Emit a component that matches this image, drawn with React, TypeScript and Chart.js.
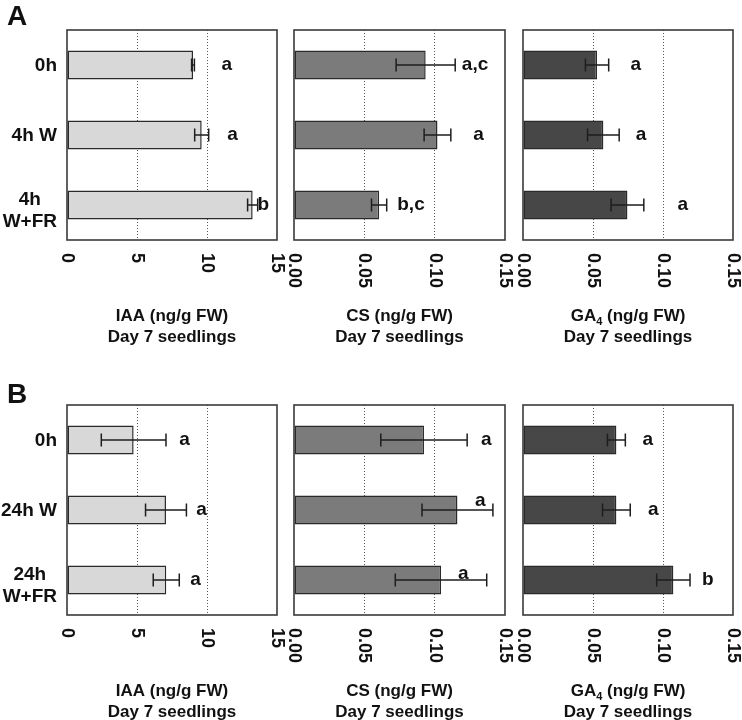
import React, { useEffect, useRef } from "react";
import { Chart, registerables } from "chart.js";

Chart.register(...registerables);

// ---------- data ----------
const rowACategories = [["0h"], ["4h W"], ["4h", "W+FR"]];
const rowBCategories = [["0h"], ["24h W"], ["24h", "W+FR"]];

const iaaTicks = ["0", "5", "10", "15"];
const hormoneTicks = ["0.00", "0.05", "0.10", "0.15"];

const iaaTitle = "IAA (ng/g FW)";
const csTitle = "CS (ng/g FW)";
const ga4Title = "GA₄ (ng/g FW)";
const subTitle = "Day 7 seedlings";

// Panel A
const iaaA = [9.0, 9.62, 13.26];
const iaaAErr = [0.1, 0.5, 0.36];
const iaaALetters = ["a", "a", "b"];
const csA = [0.0936, 0.102, 0.0605];
const csAErr = [0.021, 0.0095, 0.0054];
const csALetters = ["a,c", "a", "b,c"];
const ga4A = [0.0529, 0.0574, 0.0746];
const ga4AErr = [0.0083, 0.0113, 0.0117];
const ga4ALetters = ["a", "a", "a"];

// Panel B
const iaaB = [4.76, 7.07, 7.09];
const iaaBErr = [2.31, 1.46, 0.93];
const iaaBLetters = ["a", "a", "a"];
const csB = [0.0924, 0.1162, 0.1045];
const csBErr = [0.0307, 0.0252, 0.0325];
const csBLetters = ["a", "a", "a"];
const ga4B = [0.0667, 0.0667, 0.1074];
const ga4BErr = [0.0064, 0.0099, 0.0119];
const ga4BLetters = ["a", "a", "b"];

// letter annotation anchors (x in axis units, y shift in px)
const iaaALetterX = [11.03, 11.45, 13.6];
const csALetterX = [0.1193, 0.1274, 0.0734];
const ga4ALetterX = [0.0767, 0.0805, 0.1103];
const iaaBLetterX = [8.02, 9.24, 8.81];
const csBLetterX = [0.1329, 0.1286, 0.1165];
const ga4BLetterX = [0.0853, 0.0893, 0.1279];
const noShift = [0, 0, 0];
const csBLetterShift = [0, -9, -6];

// ---------- styling ----------
const FONT = '"Liberation Sans", Arial, Helvetica, sans-serif';
const IAA_COLOR = "#d8d8d8";
const CS_COLOR = "#7b7b7b";
const GA_COLOR = "#474747";
const INK = "#1e1e1e";

const COLS = [
  { left: 67, right: 277 },
  { left: 294, right: 505 },
  { left: 523, right: 733 },
];
const ROWS = [
  { canvasTop: 0, plotTop: 30, plotBottom: 240, letter: "A", letterY: 25 },
  { canvasTop: 360, plotTop: 405, plotBottom: 615, letter: "B", letterY: 403 },
];

const W = 742;
const H = 360;

type PanelProps = {
  col: number;
  row: number;
  values: number[];
  errors: number[];
  letters: string[];
  letterX: number[];
  letterShift: number[];
  ticks: string[];
  color: string;
  title: string;
  categories: string[][];
  showCategories: boolean;
};

function drawSubscriptText(ctx: CanvasRenderingContext2D, text: string, cx: number, y: number, size: number) {
  const subs = "₀₁₂₃₄₅₆₇₈₉";
  const parts: { t: string; sub: boolean }[] = [];
  for (const ch of text) {
    const idx = subs.indexOf(ch);
    const sub = idx >= 0;
    const t = sub ? String(idx) : ch;
    if (parts.length && parts[parts.length - 1].sub === sub) parts[parts.length - 1].t += t;
    else parts.push({ t, sub });
  }
  const big = `bold ${size}px ${FONT}`;
  const small = `bold ${Math.round(size * 0.62)}px ${FONT}`;
  let total = 0;
  for (const p of parts) {
    ctx.font = p.sub ? small : big;
    total += ctx.measureText(p.t).width;
  }
  let x = cx - total / 2;
  ctx.textAlign = "left";
  ctx.textBaseline = "alphabetic";
  for (const p of parts) {
    ctx.font = p.sub ? small : big;
    ctx.fillText(p.t, x, p.sub ? y + size * 0.22 : y);
    x += ctx.measureText(p.t).width;
  }
}

function Panel(props: PanelProps) {
  const ref = useRef<HTMLCanvasElement | null>(null);

  useEffect(() => {
    const p = props;
    const col = COLS[p.col];
    const row = ROWS[p.row];
    const tickVals = p.ticks.map((t) => parseFloat(t));
    const max = tickVals[tickVals.length - 1];
    const step = tickVals[1] - tickVals[0];

    const deco = {
      id: "deco",
      afterDatasetsDraw(chart: any) {
        const ctx: CanvasRenderingContext2D = chart.ctx;
        const xs = chart.scales.x;
        const meta = chart.getDatasetMeta(0);
        ctx.save();
        ctx.strokeStyle = INK;
        ctx.lineWidth = 1.5;
        p.values.forEach((v, i) => {
          const y = meta.data[i].y;
          const x1 = xs.getPixelForValue(v - p.errors[i]);
          const x2 = xs.getPixelForValue(v + p.errors[i]);
          ctx.beginPath();
          ctx.moveTo(x1, y);
          ctx.lineTo(x2, y);
          ctx.moveTo(x1, y - 6.5);
          ctx.lineTo(x1, y + 6.5);
          ctx.moveTo(x2, y - 6.5);
          ctx.lineTo(x2, y + 6.5);
          ctx.stroke();
        });
        ctx.restore();
      },
      afterDraw(chart: any) {
        const ctx: CanvasRenderingContext2D = chart.ctx;
        const xs = chart.scales.x;
        const ys = chart.scales.y;
        const area = chart.chartArea;
        const meta = chart.getDatasetMeta(0);
        ctx.save();

        // frame
        ctx.strokeStyle = "#3a3a3a";
        ctx.lineWidth = 1.6;
        ctx.strokeRect(area.left, area.top, area.right - area.left, area.bottom - area.top);

        ctx.fillStyle = "#111";
        // x tick labels rotated clockwise
        ctx.font = `bold 18px ${FONT}`;
        p.ticks.forEach((lab, i) => {
          const x = xs.getPixelForValue(tickVals[i]);
          ctx.save();
          ctx.translate(x, area.bottom + 13);
          ctx.rotate(Math.PI / 2);
          ctx.textAlign = "left";
          ctx.textBaseline = "middle";
          ctx.fillText(lab, 0, 0);
          ctx.restore();
        });

        // significance letters
        ctx.font = `bold 19px ${FONT}`;
        ctx.textAlign = "left";
        ctx.textBaseline = "middle";
        p.letters.forEach((l, i) => {
          const y = meta.data[i].y + p.letterShift[i];
          ctx.fillText(l, xs.getPixelForValue(p.letterX[i]), y);
        });

        // axis titles
        const cx = (area.left + area.right) / 2;
        drawSubscriptText(ctx, p.title, cx, area.bottom + 81, 17);
        drawSubscriptText(ctx, subTitle, cx, area.bottom + 102, 17);

        // category labels
        if (p.showCategories) {
          ctx.font = `bold 19px ${FONT}`;
          ctx.textBaseline = "middle";
          ctx.textAlign = "center";
          const rightEdge = 57;
          const lh = 22;
          p.categories.forEach((lines, i) => {
            const y = ys.getPixelForValue(i);
            const wMax = Math.max(...lines.map((s) => ctx.measureText(s).width));
            const cxl = rightEdge - wMax / 2;
            const y0 = y - ((lines.length - 1) * lh) / 2 + (lines.length > 1 ? 5.5 : 1);
            lines.forEach((s, k) => ctx.fillText(s, cxl, y0 + k * lh));
          });
          // panel letter
          ctx.font = `bold 28px ${FONT}`;
          ctx.textAlign = "left";
          ctx.textBaseline = "alphabetic";
          ctx.fillText(row.letter, 7, row.letterY - row.canvasTop);
        }
        ctx.restore();
      },
    };

    const chart = new Chart(ref.current as HTMLCanvasElement, {
      type: "bar",
      data: {
        labels: p.categories.map((c) => c.join(" ")),
        datasets: [
          {
            data: p.values,
            backgroundColor: p.color,
            borderColor: "#2a2a2a",
            borderWidth: 1.5,
            borderSkipped: false,
            barPercentage: 0.415,
            categoryPercentage: 1,
          },
        ],
      },
      options: {
        indexAxis: "y",
        responsive: false,
        animation: false,
        events: [],
        layout: {
          padding: {
            left: col.left,
            right: W - col.right,
            top: row.plotTop - row.canvasTop,
            bottom: row.canvasTop + H - row.plotBottom,
          },
        },
        plugins: {
          legend: { display: false },
          tooltip: { enabled: false },
          title: { display: false },
        },
        scales: {
          x: {
            type: "linear",
            min: 0,
            max: max,
            ticks: { display: false, stepSize: step },
            grid: {
              drawTicks: false,
              lineWidth: 1,
              color: (c: any) => {
                const v = c.tick ? c.tick.value : 0;
                if (Math.abs(v) < 1e-9 || Math.abs(v - max) < 1e-9) return "rgba(0,0,0,0)";
                return "#555";
              },
            },
            border: { display: false, dash: [1, 2] },
          },
          y: {
            type: "category",
            ticks: { display: false },
            grid: { display: false, drawTicks: false },
            border: { display: false },
          },
        },
      },
      plugins: [deco],
    } as any);
    return () => chart.destroy();
  }, []);

  const row = ROWS[props.row];
  return (
    <canvas
      ref={ref}
      width={W}
      height={H}
      style={{ position: "absolute", left: 0, top: row.canvasTop, width: W, height: H, display: "block" }}
    />
  );
}

export default function App() {
  return (
    <div style={{ position: "absolute", left: 0, top: 0, width: W, height: 720, background: "#fff", overflow: "hidden" }}>
      <Panel col={0} row={0} values={iaaA} errors={iaaAErr} letters={iaaALetters} letterX={iaaALetterX} letterShift={noShift} ticks={iaaTicks} color={IAA_COLOR} title={iaaTitle} categories={rowACategories} showCategories={true} />
      <Panel col={1} row={0} values={csA} errors={csAErr} letters={csALetters} letterX={csALetterX} letterShift={noShift} ticks={hormoneTicks} color={CS_COLOR} title={csTitle} categories={rowACategories} showCategories={false} />
      <Panel col={2} row={0} values={ga4A} errors={ga4AErr} letters={ga4ALetters} letterX={ga4ALetterX} letterShift={noShift} ticks={hormoneTicks} color={GA_COLOR} title={ga4Title} categories={rowACategories} showCategories={false} />
      <Panel col={0} row={1} values={iaaB} errors={iaaBErr} letters={iaaBLetters} letterX={iaaBLetterX} letterShift={noShift} ticks={iaaTicks} color={IAA_COLOR} title={iaaTitle} categories={rowBCategories} showCategories={true} />
      <Panel col={1} row={1} values={csB} errors={csBErr} letters={csBLetters} letterX={csBLetterX} letterShift={csBLetterShift} ticks={hormoneTicks} color={CS_COLOR} title={csTitle} categories={rowBCategories} showCategories={false} />
      <Panel col={2} row={1} values={ga4B} errors={ga4BErr} letters={ga4BLetters} letterX={ga4BLetterX} letterShift={noShift} ticks={hormoneTicks} color={GA_COLOR} title={ga4Title} categories={rowBCategories} showCategories={false} />
    </div>
  );
}
